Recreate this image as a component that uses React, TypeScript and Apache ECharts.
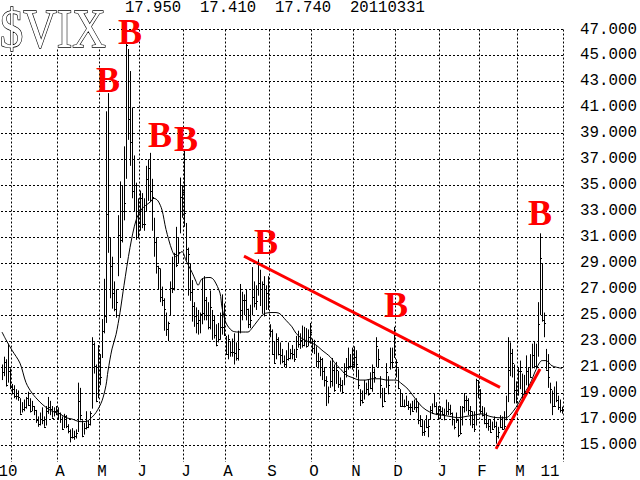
import React, { useEffect, useRef } from 'react';
import * as echarts from 'echarts';

// Daily VIX bars, 2010-02-22 .. 2011-03-31 (one entry per trading day)
const highs = [
  21.2, 21.8, 21.6, 22.8, 20.9, 19.7, 19.6, 19.3, 19.2, 18.6, 18.3, 18.5, 18.7, 19.1, 18.6, 18.4, 18.0, 17.7, 17.2, 17.5,
  17.9, 17.2, 18.0, 18.7, 18.4, 18.0, 17.9, 18.0, 17.9, 17.5, 17.2, 17.4, 17.3, 16.6, 16.2, 16.3, 16.1, 16.2, 19.8, 19.4,
  16.9, 16.7, 17.6, 16.9, 17.6, 23.3, 22.9, 21.2, 22.7, 22.0, 24.7, 27.8, 40.7, 42.1, 31.0, 29.5, 27.6, 27.0, 32.7, 35.3,
  35.0, 38.0, 46.0, 45.5, 43.8, 41.0, 37.3, 35.2, 34.0, 34.6, 34.4, 34.0, 36.5, 37.0, 37.5, 35.5, 32.5, 31.0, 28.8, 28.6,
  27.2, 26.3, 25.2, 24.5, 27.6, 29.5, 29.8, 31.8, 31.0, 35.6, 35.0, 37.7, 32.1, 30.2, 29.0, 27.7, 26.0, 25.6, 25.4, 25.2,
  27.8, 28.0, 26.4, 26.0, 26.9, 25.4, 25.0, 24.3, 24.4, 25.2, 26.6, 25.9, 23.4, 23.5, 23.0, 23.2, 23.6, 22.9, 23.8, 27.4,
  26.8, 26.6, 27.0, 25.5, 25.8, 28.7, 27.6, 27.3, 29.3, 28.5, 27.6, 28.0, 27.3, 28.0, 24.3, 23.9, 23.0, 23.6, 23.3, 22.9,
  22.4, 21.9, 22.3, 22.9, 22.4, 22.7, 22.4, 23.4, 23.8, 23.6, 24.2, 24.1, 24.0, 23.9, 24.4, 23.2, 23.1, 22.6, 22.1, 21.8,
  21.7, 21.0, 20.3, 19.5, 21.5, 21.7, 21.2, 21.4, 20.7, 20.2, 20.0, 21.3, 21.7, 22.5, 22.0, 22.5, 22.6, 22.3, 20.8, 19.3,
  19.2, 20.0, 19.8, 20.0, 20.6, 21.2, 20.9, 23.3, 22.4, 20.3, 19.4, 19.4, 21.3, 20.3, 22.5, 22.5, 24.1, 21.6, 20.9, 19.3,
  19.0, 18.5, 18.8, 18.4, 18.2, 18.4, 18.5, 18.6, 18.3, 17.3, 17.0, 16.9, 17.3, 17.0, 18.0, 18.2, 19.0, 18.3, 18.0, 18.0,
  17.9, 17.8, 18.5, 18.3, 18.1, 17.5, 17.0, 17.5, 17.0, 18.0, 18.0, 19.0, 18.8, 18.6, 18.0, 17.6, 17.6, 20.1, 20.0, 19.3,
  18.0, 17.9, 17.5, 17.0, 17.0, 16.8, 17.2, 16.8, 16.4, 17.3, 17.2, 17.6, 18.8, 23.3, 22.9, 22.4, 21.2, 19.9, 21.0, 21.5,
  20.5, 20.4, 21.9, 21.0, 22.0, 22.8, 23.0, 22.8, 26.0, 31.3, 29.0, 25.2, 22.4, 22.0, 19.8, 19.2, 19.5, 19.9, 18.8, 18.5,
  17.95,
];
const lows = [
  20.0, 20.3, 19.5, 19.8, 19.3, 18.9, 18.6, 18.5, 18.4, 17.4, 17.5, 17.6, 17.8, 18.0, 17.5, 17.6, 17.3, 16.7, 16.4, 16.5,
  16.6, 16.4, 16.5, 17.4, 17.3, 17.1, 17.2, 17.3, 17.0, 16.7, 16.2, 16.3, 16.3, 15.9, 15.2, 15.5, 15.4, 15.5, 16.0, 16.9,
  15.6, 15.8, 16.2, 16.3, 16.5, 17.8, 20.5, 18.3, 18.6, 19.6, 21.7, 23.6, 24.4, 29.8, 26.3, 25.5, 25.3, 24.8, 28.0, 29.4,
  30.6, 32.3, 35.5, 38.5, 36.5, 34.0, 33.0, 30.8, 30.9, 31.5, 31.7, 31.5, 33.0, 33.8, 33.7, 31.5, 29.5, 28.2, 27.0, 26.0,
  25.7, 23.8, 23.4, 23.0, 25.0, 26.7, 26.9, 28.7, 29.0, 31.3, 32.5, 31.8, 29.2, 26.5, 26.1, 24.5, 24.1, 23.6, 23.5, 23.6,
  24.3, 24.6, 24.6, 23.9, 23.9, 23.1, 23.2, 22.6, 22.9, 23.1, 23.5, 23.4, 22.0, 21.6, 21.8, 21.8, 21.2, 21.5, 21.5, 23.6,
  24.6, 25.0, 24.6, 24.0, 24.0, 25.0, 25.6, 25.4, 26.5, 25.7, 25.1, 24.9, 25.4, 25.4, 23.3, 22.0, 21.3, 21.6, 21.9, 21.2,
  21.3, 21.0, 21.0, 21.5, 21.6, 21.6, 21.4, 21.7, 22.5, 22.4, 22.5, 22.6, 22.5, 22.6, 22.8, 22.1, 22.0, 21.0, 20.9, 20.3,
  20.0, 19.5, 18.0, 18.2, 19.4, 19.5, 19.1, 19.7, 19.4, 19.1, 19.0, 19.6, 20.2, 20.8, 20.9, 20.8, 21.0, 20.2, 19.3, 18.0,
  18.2, 18.5, 18.9, 18.8, 19.3, 19.1, 19.8, 21.0, 21.0, 18.6, 17.9, 18.3, 19.4, 18.9, 20.8, 20.9, 21.7, 20.2, 19.3, 18.0,
  18.0, 17.9, 18.0, 17.7, 17.3, 17.6, 17.7, 17.5, 16.6, 16.4, 15.7, 15.7, 16.3, 15.6, 17.0, 17.4, 17.9, 17.3, 17.0, 17.0,
  17.3, 16.9, 17.3, 17.3, 17.3, 16.5, 16.2, 16.7, 15.6, 15.8, 16.5, 17.5, 17.6, 17.3, 16.5, 16.3, 16.0, 16.5, 18.6, 17.4,
  17.2, 16.6, 16.3, 16.1, 16.0, 16.2, 16.3, 15.1, 15.5, 16.3, 16.2, 16.2, 16.9, 18.3, 20.3, 20.2, 18.2, 18.2, 18.8, 19.3,
  18.5, 18.6, 19.6, 19.0, 20.2, 20.9, 20.9, 20.9, 21.8, 25.0, 24.5, 23.3, 20.8, 19.4, 18.2, 17.3, 18.0, 18.3, 17.7, 17.5,
  17.41,
];
const closes = [
  20.6, 21.4, 19.6, 20.7, 19.5, 19.3, 18.8, 18.8, 18.7, 17.4, 17.8, 17.9, 18.6, 18.1, 17.6, 18.0, 17.7, 16.9, 16.6, 17.0,
  16.9, 16.4, 17.6, 17.9, 17.8, 17.1, 17.6, 17.6, 17.5, 17.0, 16.2, 17.2, 16.5, 16.1, 15.6, 15.6, 15.7, 15.9, 18.4, 17.3,
  15.7, 16.3, 16.4, 16.6, 17.5, 22.8, 21.1, 18.4, 22.1, 20.2, 23.8, 24.9, 32.8, 41.0, 28.8, 26.7, 25.5, 26.0, 31.2, 30.8,
  33.0, 33.6, 45.8, 40.1, 38.3, 34.6, 35.0, 31.0, 32.1, 34.0, 32.0, 32.0, 35.5, 36.3, 34.6, 34.1, 30.6, 28.8, 28.6, 26.4,
  26.2, 25.5, 23.9, 24.4, 27.1, 27.1, 29.7, 28.9, 29.9, 34.1, 34.5, 32.9, 30.1, 29.7, 26.8, 25.7, 24.9, 24.4, 24.6, 25.1,
  25.2, 26.2, 25.0, 24.1, 25.6, 24.6, 23.5, 22.7, 23.2, 24.1, 24.1, 23.5, 22.0, 23.2, 22.2, 22.2, 22.1, 21.7, 22.4, 25.4,
  26.2, 26.2, 25.5, 24.3, 24.6, 26.4, 25.9, 26.1, 27.5, 27.0, 27.4, 25.0, 26.7, 26.1, 23.8, 22.0, 21.3, 23.2, 22.0, 21.9,
  21.5, 21.2, 21.6, 21.7, 22.1, 22.0, 21.6, 22.4, 22.8, 23.1, 22.7, 23.0, 22.6, 23.3, 23.7, 22.5, 23.0, 21.5, 21.5, 21.6,
  20.7, 20.0, 19.9, 18.8, 19.9, 20.8, 19.2, 20.8, 19.7, 19.6, 19.1, 20.7, 21.0, 21.1, 21.1, 21.2, 21.8, 21.2, 19.6, 18.5,
  18.3, 19.0, 19.3, 18.9, 19.4, 20.6, 20.2, 22.6, 21.6, 19.6, 18.0, 18.4, 20.6, 19.6, 21.4, 21.4, 23.5, 21.4, 19.4, 18.0,
  18.0, 18.0, 18.1, 17.9, 17.9, 17.6, 17.9, 17.9, 16.9, 16.5, 16.0, 16.1, 16.4, 16.5, 17.7, 17.5, 18.0, 17.5, 17.8, 17.6,
  17.4, 17.0, 17.6, 17.8, 17.5, 17.0, 16.4, 16.9, 15.8, 15.9, 17.9, 18.5, 18.5, 17.7, 17.6, 16.6, 16.2, 20.0, 19.5, 17.6,
  17.3, 16.7, 16.7, 16.5, 16.0, 16.2, 16.5, 15.7, 16.0, 16.4, 16.2, 16.5, 17.0, 20.8, 22.1, 21.3, 19.2, 18.4, 20.7, 20.7,
  18.6, 19.1, 20.7, 19.1, 20.2, 21.9, 21.1, 21.1, 24.3, 29.4, 24.6, 24.4, 20.8, 20.2, 19.3, 18.0, 18.0, 18.5, 17.9, 17.7,
  17.74,
];

// 20-day moving average (bar index, value)
const maIndex = [
  0, 2, 5, 9, 12, 15, 19, 22, 25, 29, 32, 35, 39, 42, 44, 47, 50, 52, 53, 55, 57, 59, 61, 64, 67, 70, 74, 76, 78, 80,
  82, 85, 87, 90, 92, 95, 97, 98, 100, 104, 106, 109, 110, 112, 115, 118, 123, 125, 128, 131, 135, 137, 139, 142, 145,
  147, 150, 154, 157, 160, 164, 167, 169, 172, 175, 179, 182, 185, 189, 192, 197, 200, 203, 206, 209, 212, 216, 220,
  224, 228, 232, 236, 240, 244, 248, 252, 254, 257, 260, 264, 267, 270, 272, 275, 280,
];
const maValue = [
  23.7, 23.1, 22.3, 21.3, 19.8, 19.0, 18.3, 17.9, 17.6, 17.4, 17.1, 17.0, 16.8, 16.8, 17.0, 17.5, 18.4, 19.6, 20.7,
  22.4, 23.5, 25.2, 27.3, 30.2, 32.3, 33.2, 33.7, 34.0, 33.8, 33.1, 31.6, 30.0, 29.5, 29.9, 29.2, 28.3, 27.6, 27.3,
  27.8, 27.9, 27.7, 26.7, 25.6, 24.4, 23.8, 23.7, 23.7, 24.0, 24.6, 25.1, 25.2, 25.2, 25.1, 24.6, 24.1, 23.6, 23.2,
  22.9, 22.7, 22.3, 21.8, 21.2, 20.9, 20.4, 20.2, 20.0, 20.0, 20.1, 20.1, 20.0, 20.0, 19.7, 19.3, 18.7, 18.1, 17.7,
  17.4, 17.3, 17.2, 17.1, 17.2, 17.3, 17.4, 17.2, 17.1, 17.1, 17.3, 17.9, 18.7, 19.7, 20.8, 21.5, 21.5, 21.1, 20.9,
];

const gridValues = [15, 17, 19, 21, 23, 25, 27, 29, 31, 33, 35, 37, 39, 41, 43, 45, 47];
const monthLineIndex = [5, 28, 49, 69, 91, 112, 134, 155, 176, 197, 219, 239, 258];
const tickIndex = [3, 29, 50, 70, 92, 113, 135, 156, 177, 198, 220, 240, 259, 274];
const tickText = ['10', 'A', 'M', 'J', 'J', 'A', 'S', 'O', 'N', 'D', 'J', 'F', 'M', '11'];

const signalIndex = [53, 64, 79, 92, 132, 197, 269];
const signalValue = [43.1, 46.8, 38.9, 38.6, 30.6, 25.8, 32.9];

const downTrend = [[121, 29.54], [249, 19.44]];
const upTrend = [[247, 14.7], [269, 20.85]];

const headerValues = ['17.950', '17.410', '17.740', '20110331'];
const headerX = [125, 200, 275, 350];

const MONO = '"Liberation Mono", monospace';

export default function App() {
  const ref = useRef<HTMLDivElement>(null);

  useEffect(() => {
    if (!ref.current) return;
    const chart = echarts.init(ref.current, null, { renderer: 'svg' });
    const categories = highs.map((_, i) => String(i));
    const bars = highs.map((h, i) => [i, h, lows[i], closes[i]]);
    const ma = maIndex.map((i, k) => [i, maValue[k]]);
    const signals = signalIndex.map((i, k) => [i, signalValue[k]]);

    const option: any = {
      animation: false,
      backgroundColor: '#ffffff',
      grid: { left: 1, top: 29.5, width: 562, height: 432.5, containLabel: false, outerBoundsMode: 'none' },
      xAxis: {
        type: 'category',
        data: categories,
        boundaryGap: true,
        axisLine: { show: false },
        axisTick: { show: false },
        axisLabel: {
          interval: (idx: number) => tickIndex.includes(idx),
          formatter: (_v: string, idx: number) => {
            const k = tickIndex.indexOf(idx);
            return k >= 0 ? tickText[k] : '';
          },
          color: '#000',
          fontFamily: MONO,
          fontSize: 15.8,
          margin: 2,
        },
        splitLine: {
          show: true,
          interval: (idx: number) => monthLineIndex.includes(idx),
          lineStyle: { color: '#000', width: 1, type: [2, 2] },
        },
      },
      yAxis: {
        type: 'value',
        min: 13.69,
        max: 47,
        show: false,
        splitLine: { show: false },
      },
      series: [
        {
          type: 'custom',
          name: 'VIX',
          data: bars,
          encode: { x: 0, y: [1, 2, 3] },
          clip: false,
          z: 2,
          renderItem: (_p: any, api: any) => {
            const i = api.value(0);
            const top = api.coord([i, api.value(1)]);
            const bot = api.coord([i, api.value(2)]);
            const cl = api.coord([i, api.value(3)]);
            const x = Math.round(top[0]) + 0.5;
            const cy = Math.round(cl[1]) + 0.5;
            return {
              type: 'group',
              children: [
                { type: 'line', shape: { x1: x, y1: top[1], x2: x, y2: bot[1] }, style: { stroke: '#000', lineWidth: 1 } },
                { type: 'line', shape: { x1: x - 0.5, y1: cy, x2: x + 1.5, y2: cy }, style: { stroke: '#000', lineWidth: 1 } },
              ],
            };
          },
        },
        {
          type: 'line',
          name: 'MA',
          data: ma,
          symbol: 'none',
          showSymbol: false,
          smooth: 0.3,
          clip: false,
          z: 3,
          lineStyle: { color: '#000', width: 1 },
          markLine: {
            silent: true,
            symbol: ['none', 'none'],
            animation: false,
            lineStyle: { color: '#000', width: 1, type: [2, 2] },
            label: {
              show: true,
              position: 'end',
              distance: 17,
              color: '#000',
              fontFamily: MONO,
              fontSize: 15.8,
              formatter: (p: any) => Number(p.value).toFixed(3),
            },
            emphasis: { disabled: true },
            data: gridValues.map((v) => ({ yAxis: v })),
          },
        },
        {
          type: 'line',
          name: 'down',
          data: downTrend,
          symbol: 'none',
          z: 4,
          clip: false,
          lineStyle: { color: '#ff0000', width: 3 },
        },
        {
          type: 'line',
          name: 'up',
          data: upTrend,
          symbol: 'none',
          z: 4,
          clip: false,
          lineStyle: { color: '#ff0000', width: 3 },
        },
        {
          type: 'custom',
          name: 'signals',
          data: signals,
          encode: { x: 0, y: 1 },
          clip: false,
          z: 5,
          renderItem: (_p: any, api: any) => {
            const pt = api.coord([api.value(0), api.value(1)]);
            return {
              type: 'text',
              x: pt[0],
              y: pt[1],
              style: {
                text: 'B',
                fill: '#ff0000',
                font: 'bold 36px "Liberation Serif", serif',
                lineHeight: 24,
                align: 'center',
                verticalAlign: 'middle',
              },
            };
          },
        },
      ],
      graphic: [
        { type: 'rect', z: 10, shape: { x: 0, y: 0, width: 107, height: 48 }, style: { fill: '#fff' } },
        {
          type: 'text',
          z: 11,
          x: 0,
          y: 29,
          scaleX: 0.86,
          style: {
            text: '$VIX',
            font: '54px "Liberation Serif", serif',
            fill: '#fff',
            stroke: '#000',
            lineWidth: 1.4,
            align: 'left',
            verticalAlign: 'middle',
          },
        },
        ...headerValues.map((t, k) => ({
          type: 'text',
          z: 11,
          x: headerX[k],
          y: 8,
          style: { text: t, font: `15.6px ${MONO}`, lineHeight: 12, fill: '#000', align: 'left', verticalAlign: 'middle' },
        })),
      ],
    };
    chart.setOption(option);
    return () => chart.dispose();
  }, []);

  return (
    <div
      ref={ref}
      style={{ position: 'fixed', left: 0, top: 0, width: 640, height: 480, background: '#fff' }}
    />
  );
}
